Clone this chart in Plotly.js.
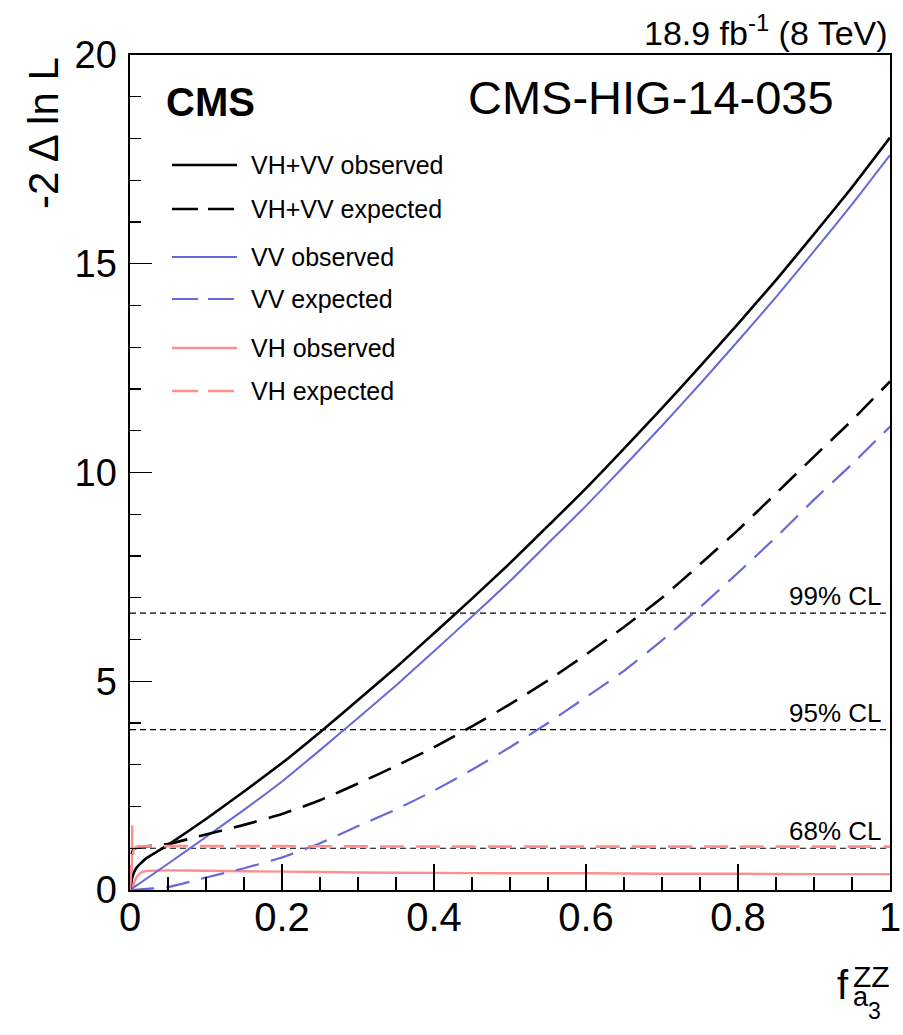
<!DOCTYPE html>
<html>
<head>
<meta charset="utf-8">
<script src="https://cdn.plot.ly/plotly-3.0.1.min.js"></script>
<style>html,body{margin:0;padding:0;background:#fff;}#chart{width:903px;height:1035px;}</style>
</head>
<body>
<div id="chart"></div>
<script>
// ---- data ----
const fa3Grid = [0, 0.05, 0.1, 0.15, 0.2, 0.25, 0.3, 0.35, 0.4, 0.45, 0.5, 0.55, 0.6, 0.65, 0.7, 0.75, 0.8, 0.85, 0.9, 0.95, 1.0];

const vvObsX = fa3Grid;
const vvObsY = [0, 0.63, 1.27, 1.92, 2.6, 3.35, 4.12, 4.9, 5.72, 6.55, 7.4, 8.3, 9.2, 10.15, 11.12, 12.12, 13.15, 14.2, 15.3, 16.42, 17.6];

const vvExpX = fa3Grid;
const vvExpY = [0, 0.07, 0.3, 0.52, 0.78, 1.12, 1.53, 1.93, 2.38, 2.88, 3.42, 4.0, 4.62, 5.25, 5.98, 6.77, 7.6, 8.45, 9.35, 10.2, 11.1];

const combObsX = [0, 0.003, 0.008, 0.02, 0.035, 0.05, 0.1, 0.15, 0.2, 0.25, 0.3, 0.35, 0.4, 0.45, 0.5, 0.55, 0.6, 0.65, 0.7, 0.75, 0.8, 0.85, 0.9, 0.95, 1.0];
const combObsY = [0, 0.3, 0.52, 0.74, 0.91, 1.08, 1.7, 2.36, 3.04, 3.78, 4.55, 5.33, 6.15, 6.98, 7.83, 8.72, 9.62, 10.57, 11.54, 12.54, 13.56, 14.61, 15.71, 16.83, 18.02];

const combExpX = [0, 0.002, 0.005, 0.01, 0.05, 0.1, 0.15, 0.2, 0.25, 0.3, 0.35, 0.4, 0.45, 0.5, 0.55, 0.6, 0.65, 0.7, 0.75, 0.8, 0.85, 0.9, 0.95, 1.0];
const combExpY = [0, 0.85, 0.98, 1.02, 1.1, 1.33, 1.56, 1.82, 2.15, 2.55, 2.97, 3.42, 3.92, 4.45, 5.02, 5.64, 6.3, 7.0, 7.8, 8.62, 9.5, 10.38, 11.25, 12.18];

const vhObsX = [0.003, 0.003, 0.006, 0.01, 0.015, 0.025, 0.05, 0.1, 0.2, 0.3, 0.4, 0.5, 0.6, 0.7, 0.8, 0.9, 1.0];
const vhObsY = [1.55, 0, 0.2, 0.34, 0.42, 0.46, 0.47, 0.46, 0.44, 0.42, 0.41, 0.40, 0.40, 0.39, 0.39, 0.38, 0.38];

const vhExpX = [0, 0.003, 0.006, 0.01, 0.05, 0.2, 0.4, 0.6, 0.8, 1.0];
const vhExpY = [0, 0.8, 1.0, 1.04, 1.05, 1.05, 1.04, 1.04, 1.04, 1.04];

const clLevels = [1.0, 3.84, 6.63];
const clLabels = ['68% CL', '95% CL', '99% CL'];

const xTickVals = [0, 0.2, 0.4, 0.6, 0.8, 1];
const xTickText = ['0', '0.2', '0.4', '0.6', '0.8', '1'];
const yTickVals = [0, 5, 10, 15, 20];
const yTickText = ['0', '5', '10', '15', '20'];

const seriesNames = ['VH+VV observed', 'VH+VV expected', 'VV observed', 'VV expected', 'VH observed', 'VH expected'];

// ---- styling ----
const FONT = 'Liberation Sans, Arial, Helvetica, sans-serif';
const BLACK = '#000000', BLUE = '#6868d8', PINK = '#ff8f8f';
const DASH = '24px,12px';

const series = [
  {name: seriesNames[0], x: combObsX, y: combObsY, color: BLACK, width: 2.6, dash: 'solid'},
  {name: seriesNames[1], x: combExpX, y: combExpY, color: BLACK, width: 2.6, dash: DASH},
  {name: seriesNames[2], x: vvObsX, y: vvObsY, color: BLUE, width: 2.0, dash: 'solid'},
  {name: seriesNames[3], x: vvExpX, y: vvExpY, color: BLUE, width: 2.2, dash: DASH},
  {name: seriesNames[4], x: vhObsX, y: vhObsY, color: PINK, width: 2.4, dash: 'solid'},
  {name: seriesNames[5], x: vhExpX, y: vhExpY, color: PINK, width: 2.6, dash: DASH}
];

// draw order: pink first, then blue, then black on top
const order = [5, 4, 3, 2, 1, 0];
const traces = order.map((i, k) => ({
  type: 'scatter', mode: 'lines', name: series[i].name,
  x: series[i].x, y: series[i].y,
  xaxis: k === 0 ? 'x2' : 'x',   // first trace also anchors the tick-label axis (same range)
  line: {color: series[i].color, width: series[i].width, dash: series[i].dash, shape: 'spline', smoothing: 0.5},
  showlegend: false, hoverinfo: 'skip'
}));

// plot geometry (pixels) for paper-coordinate helpers
const L = 130, R = 890, T = 55, B = 890, W = 903, H = 1035;
const px2x = p => (p - L) / (R - L);
const px2y = p => (B - p) / (B - T);

const shapes = [];
const annotations = [];

// confidence-level lines
clLevels.forEach((lv, k) => {
  shapes.push({type: 'line', xref: 'paper', yref: 'y', x0: 0, x1: 1, y0: lv, y1: lv,
    line: {color: '#000', width: 1.2, dash: '6px,4px'}, layer: 'below'});
  annotations.push({xref: 'paper', yref: 'y', x: px2x(884), y: lv, xanchor: 'right', yanchor: 'bottom',
    text: clLabels[k], showarrow: false, font: {family: FONT, size: 26, color: '#000'}});
});

// manual legend
const legendRows = [165, 209, 257, 299, 348, 391];
series.forEach((s, k) => {
  const yy = px2y(legendRows[k]);
  shapes.push({type: 'line', xref: 'paper', yref: 'paper', x0: px2x(172), x1: px2x(237), y0: yy, y1: yy,
    line: {color: s.color, width: s.width, dash: s.dash === 'solid' ? 'solid' : '26px,10px'}});
  annotations.push({xref: 'paper', yref: 'paper', x: px2x(249), y: yy, xanchor: 'left', yanchor: 'middle',
    text: s.name, showarrow: false, font: {family: FONT, size: 25, color: '#000'}});
});

// labels
annotations.push({xref: 'paper', yref: 'paper', x: px2x(164), y: px2y(102), xanchor: 'left', yanchor: 'middle',
  text: '<b>CMS</b>', showarrow: false, font: {family: FONT, size: 40, color: '#000'}});
annotations.push({xref: 'paper', yref: 'paper', x: px2x(836), y: px2y(97), xanchor: 'right', yanchor: 'middle',
  text: 'CMS-HIG-14-035', showarrow: false, font: {family: FONT, size: 47, color: '#000'}});
annotations.push({xref: 'paper', yref: 'paper', x: px2x(890), y: px2y(30), xanchor: 'right', yanchor: 'middle',
  text: '18.9 fb<sup>-1</sup> (8 TeV)', showarrow: false,
  font: {family: FONT, size: 34, color: '#000'}});
// y-axis title (aligned to top of axis, ROOT style)
annotations.push({xref: 'paper', yref: 'paper', x: px2x(43), y: 1, xanchor: 'center', yanchor: 'top',
  textangle: -90, text: '-2 Δ ln L', showarrow: false, font: {family: FONT, size: 42, color: '#000'}});
// x-axis title  f_{a3}^{ZZ}
annotations.push({xref: 'paper', yref: 'paper', x: px2x(851), y: px2y(985), xanchor: 'right', yanchor: 'middle',
  text: 'f', showarrow: false, font: {family: FONT, size: 40, color: '#000'}});
annotations.push({xref: 'paper', yref: 'paper', x: px2x(851), y: px2y(976), xanchor: 'left', yanchor: 'middle',
  text: 'ZZ', showarrow: false, font: {family: FONT, size: 30, color: '#000'}});
annotations.push({xref: 'paper', yref: 'paper', x: px2x(851), y: px2y(997), xanchor: 'left', yanchor: 'middle',
  text: 'a', showarrow: false, font: {family: FONT, size: 27, color: '#000'}});
annotations.push({xref: 'paper', yref: 'paper', x: px2x(866), y: px2y(1011), xanchor: 'left', yanchor: 'middle',
  text: '3', showarrow: false, font: {family: FONT, size: 23, color: '#000'}});

const layout = {
  width: W, height: H, autosize: false,
  margin: {l: L, r: W - R, t: T, b: H - B, pad: 0},
  paper_bgcolor: '#fff', plot_bgcolor: '#fff',
  showlegend: false,
  font: {family: FONT, color: '#000'},
  xaxis: {
    range: [0, 1], tickvals: xTickVals, ticktext: xTickText, showticklabels: false,
    ticks: 'inside', ticklen: 26, tickwidth: 1.3, tickcolor: '#000',
    minor: {dtick: 0.05, tick0: 0, ticks: 'inside', ticklen: 13, tickwidth: 1.3, tickcolor: '#000', showgrid: false},
    showline: true, linecolor: '#000', linewidth: 1.6, mirror: true,
    showgrid: false, zeroline: false
  },
  // tick-label axis: same scale, labels placed close under the frame (ROOT style)
  xaxis2: {
    overlaying: 'x', anchor: 'free', position: 0, side: 'bottom',
    range: [0, 1], tickvals: xTickVals, ticktext: xTickText,
    ticks: '', showline: false, showgrid: false, zeroline: false,
    tickfont: {family: FONT, size: 40, color: '#000'}
  },
  yaxis: {
    range: [0, 20], tickvals: yTickVals, ticktext: yTickText,
    ticks: 'inside', ticklen: 22, tickwidth: 1.3, tickcolor: '#000',
    minor: {dtick: 1, tick0: 0, ticks: 'inside', ticklen: 11, tickwidth: 1.3, tickcolor: '#000', showgrid: false},
    showline: true, linecolor: '#000', linewidth: 1.6, mirror: true,
    showgrid: false, zeroline: false,
    tickfont: {family: FONT, size: 38, color: '#000'}, ticklabelstandoff: 4
  },
  shapes: shapes,
  annotations: annotations
};

Plotly.newPlot('chart', traces, layout, {staticPlot: true, displayModeBar: false});
</script>
</body>
</html>
